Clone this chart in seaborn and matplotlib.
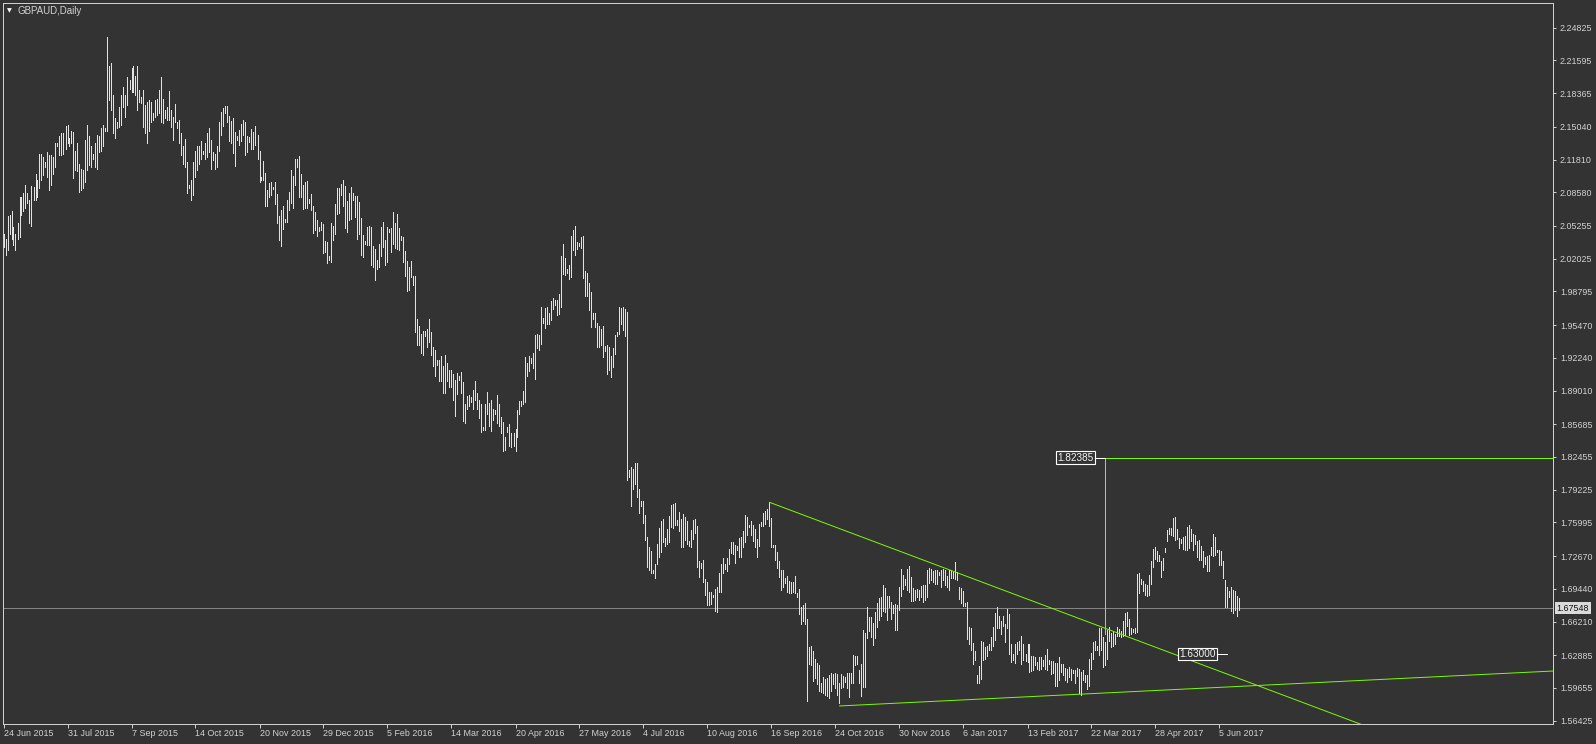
import matplotlib
matplotlib.use("Agg")
import matplotlib.pyplot as plt
import matplotlib.transforms as mtransforms
import numpy as np
import pandas as pd
import seaborn as sns

# ---------------- data ----------------
symbol_title = "GBPAUD,Daily"

bar_high = [
    2.045, 2.040, 2.062, 2.063, 2.067, 2.052, 2.045, 2.055, 2.081, 2.081,
    2.085, 2.093, 2.085, 2.078, 2.092, 2.091, 2.104, 2.098, 2.124, 2.124,
    2.121, 2.116, 2.126, 2.123, 2.123, 2.121, 2.134, 2.134, 2.141, 2.144,
    2.144, 2.151, 2.152, 2.139, 2.146, 2.145, 2.127, 2.134, 2.114, 2.109,
    2.108, 2.137, 2.152, 2.141, 2.131, 2.124, 2.134, 2.142, 2.141, 2.149,
    2.152, 2.149, 2.239, 2.210, 2.213, 2.182, 2.159, 2.155, 2.170, 2.182,
    2.190, 2.182, 2.200, 2.197, 2.208, 2.210, 2.201, 2.210, 2.187, 2.180,
    2.187, 2.172, 2.175, 2.177, 2.175, 2.164, 2.177, 2.178, 2.187, 2.200,
    2.178, 2.167, 2.170, 2.186, 2.167, 2.160, 2.173, 2.155, 2.157, 2.144,
    2.131, 2.138, 2.116, 2.093, 2.098, 2.116, 2.127, 2.131, 2.131, 2.136,
    2.127, 2.134, 2.144, 2.149, 2.137, 2.126, 2.124, 2.131, 2.155, 2.165,
    2.169, 2.171, 2.171, 2.161, 2.156, 2.159, 2.145, 2.141, 2.147, 2.153,
    2.157, 2.155, 2.141, 2.140, 2.148, 2.145, 2.151, 2.142, 2.127, 2.101,
    2.117, 2.105, 2.088, 2.095, 2.096, 2.091, 2.096, 2.084, 2.062, 2.068,
    2.072, 2.059, 2.078, 2.086, 2.108, 2.102, 2.119, 2.119, 2.122, 2.104,
    2.093, 2.096, 2.097, 2.079, 2.084, 2.072, 2.066, 2.058, 2.052, 2.056,
    2.054, 2.038, 2.037, 2.023, 2.055, 2.053, 2.074, 2.090, 2.090, 2.094,
    2.098, 2.092, 2.077, 2.085, 2.091, 2.085, 2.082, 2.082, 2.076, 2.060,
    2.044, 2.038, 2.052, 2.053, 2.052, 2.033, 2.030, 2.019, 2.035, 2.052,
    2.056, 2.039, 2.052, 2.050, 2.051, 2.066, 2.055, 2.064, 2.051, 2.043,
    2.042, 2.028, 2.018, 2.012, 2.018, 2.003, 2.003, 1.961, 1.954, 1.946,
    1.949, 1.949, 1.951, 1.961, 1.948, 1.933, 1.930, 1.920, 1.920, 1.924,
    1.914, 1.925, 1.917, 1.910, 1.910, 1.906, 1.901, 1.907, 1.904, 1.908,
    1.899, 1.877, 1.885, 1.886, 1.884, 1.891, 1.900, 1.888, 1.881, 1.877,
    1.854, 1.877, 1.889, 1.878, 1.881, 1.872, 1.871, 1.886, 1.877, 1.864,
    1.859, 1.844, 1.854, 1.857, 1.848, 1.848, 1.852, 1.871, 1.880, 1.880,
    1.890, 1.923, 1.917, 1.924, 1.922, 1.927, 1.945, 1.946, 1.945, 1.973,
    1.962, 1.972, 1.973, 1.967, 1.978, 1.981, 1.979, 1.979, 1.985, 2.023,
    2.035, 2.021, 2.010, 2.014, 2.043, 2.049, 2.053, 2.037, 2.036, 2.042,
    2.043, 2.008, 2.006, 1.996, 1.987, 1.967, 1.967, 1.957, 1.954, 1.951,
    1.954, 1.934, 1.935, 1.933, 1.924, 1.932, 1.945, 1.948, 1.973, 1.972,
    1.973, 1.971, 1.968, 1.812, 1.815, 1.813, 1.819, 1.819, 1.793, 1.781,
    1.781, 1.767, 1.746, 1.736, 1.732, 1.713, 1.719, 1.739, 1.754, 1.761,
    1.763, 1.745, 1.753, 1.766, 1.777, 1.778, 1.779, 1.762, 1.770, 1.763,
    1.768, 1.765, 1.761, 1.742, 1.752, 1.762, 1.763, 1.756, 1.722, 1.720,
    1.723, 1.704, 1.701, 1.691, 1.691, 1.688, 1.694, 1.696, 1.710, 1.719,
    1.725, 1.719, 1.725, 1.734, 1.741, 1.741, 1.738, 1.737, 1.745, 1.746,
    1.751, 1.767, 1.765, 1.757, 1.761, 1.757, 1.753, 1.744, 1.758, 1.760,
    1.769, 1.771, 1.773, 1.780, 1.764, 1.738, 1.738, 1.731, 1.722, 1.713,
    1.713, 1.705, 1.707, 1.702, 1.701, 1.701, 1.707, 1.690, 1.694, 1.676,
    1.678, 1.680, 1.665, 1.637, 1.638, 1.633, 1.625, 1.621, 1.619, 1.601,
    1.607, 1.605, 1.606, 1.609, 1.611, 1.610, 1.611, 1.610, 1.601, 1.610,
    1.608, 1.607, 1.611, 1.611, 1.611, 1.629, 1.628, 1.628, 1.614, 1.620,
    1.654, 1.651, 1.676, 1.667, 1.667, 1.661, 1.672, 1.680, 1.685, 1.686,
    1.698, 1.695, 1.687, 1.687, 1.681, 1.678, 1.679, 1.678, 1.696, 1.714,
    1.708, 1.704, 1.714, 1.717, 1.706, 1.695, 1.693, 1.694, 1.693, 1.697,
    1.698, 1.698, 1.713, 1.715, 1.714, 1.712, 1.713, 1.713, 1.711, 1.713,
    1.714, 1.713, 1.707, 1.713, 1.713, 1.711, 1.721, 1.711, 1.696, 1.695,
    1.692, 1.680, 1.681, 1.657, 1.656, 1.641, 1.633, 1.609, 1.618, 1.643,
    1.642, 1.637, 1.638, 1.640, 1.647, 1.657, 1.671, 1.676, 1.668, 1.663,
    1.668, 1.660, 1.675, 1.670, 1.640, 1.630, 1.640, 1.642, 1.643, 1.648,
    1.640, 1.630, 1.640, 1.640, 1.628, 1.628, 1.627, 1.622, 1.627, 1.627,
    1.624, 1.629, 1.635, 1.624, 1.623, 1.623, 1.621, 1.621, 1.627, 1.620,
    1.620, 1.616, 1.615, 1.617, 1.615, 1.614, 1.614, 1.616, 1.615, 1.612,
    1.614, 1.609, 1.609, 1.625, 1.631, 1.642, 1.643, 1.638, 1.656, 1.656,
    1.647, 1.642, 1.654, 1.657, 1.651, 1.653, 1.650, 1.657, 1.655, 1.653,
    1.663, 1.671, 1.672, 1.665, 1.656, 1.655, 1.656, 1.709, 1.710, 1.704,
    1.702, 1.699, 1.698, 1.708, 1.722, 1.734, 1.736, 1.732, 1.728, 1.722,
    1.725, 1.735, 1.752, 1.754, 1.754, 1.764, 1.765, 1.753, 1.745, 1.744,
    1.746, 1.747, 1.755, 1.757, 1.753, 1.749, 1.748, 1.742, 1.743, 1.737,
    1.732, 1.726, 1.727, 1.728, 1.736, 1.749, 1.746, 1.733, 1.733, 1.732,
    1.722, 1.703, 1.696, 1.692, 1.696, 1.693, 1.692, 1.687, 1.685,
]

bar_low = [
    2.032, 2.024, 2.029, 2.045, 2.040, 2.034, 2.029, 2.040, 2.042, 2.063,
    2.067, 2.070, 2.075, 2.055, 2.053, 2.078, 2.078, 2.081, 2.090, 2.098,
    2.103, 2.111, 2.101, 2.088, 2.093, 2.104, 2.111, 2.131, 2.123, 2.123,
    2.124, 2.129, 2.134, 2.131, 2.134, 2.100, 2.108, 2.107, 2.086, 2.088,
    2.090, 2.096, 2.108, 2.113, 2.111, 2.119, 2.111, 2.109, 2.126, 2.127,
    2.131, 2.146, 2.146, 2.177, 2.167, 2.144, 2.139, 2.149, 2.150, 2.152,
    2.170, 2.160, 2.172, 2.188, 2.185, 2.185, 2.182, 2.167, 2.175, 2.174,
    2.150, 2.144, 2.134, 2.146, 2.155, 2.157, 2.160, 2.162, 2.164, 2.155,
    2.154, 2.159, 2.157, 2.157, 2.150, 2.137, 2.155, 2.149, 2.134, 2.123,
    2.114, 2.111, 2.085, 2.090, 2.078, 2.083, 2.101, 2.108, 2.114, 2.119,
    2.124, 2.119, 2.121, 2.126, 2.109, 2.118, 2.109, 2.111, 2.127, 2.142,
    2.151, 2.164, 2.155, 2.136, 2.134, 2.125, 2.112, 2.137, 2.132, 2.136,
    2.142, 2.123, 2.126, 2.135, 2.129, 2.129, 2.132, 2.119, 2.096, 2.098,
    2.098, 2.072, 2.072, 2.081, 2.083, 2.089, 2.074, 2.055, 2.039, 2.033,
    2.050, 2.056, 2.056, 2.068, 2.075, 2.070, 2.093, 2.111, 2.081, 2.081,
    2.069, 2.070, 2.070, 2.075, 2.068, 2.046, 2.049, 2.043, 2.048, 2.049,
    2.026, 2.027, 2.016, 2.019, 2.017, 2.039, 2.045, 2.064, 2.065, 2.083,
    2.072, 2.051, 2.047, 2.058, 2.059, 2.078, 2.061, 2.040, 2.045, 2.024,
    2.022, 2.035, 2.034, 2.034, 2.014, 2.012, 1.999, 2.010, 2.012, 2.023,
    2.032, 2.014, 2.017, 2.047, 2.027, 2.035, 2.031, 2.030, 2.029, 2.039,
    2.017, 2.003, 1.988, 1.989, 2.002, 1.994, 1.948, 1.935, 1.935, 1.927,
    1.925, 1.944, 1.933, 1.938, 1.925, 1.914, 1.904, 1.915, 1.900, 1.900,
    1.888, 1.888, 1.900, 1.894, 1.894, 1.881, 1.865, 1.887, 1.901, 1.888,
    1.860, 1.858, 1.872, 1.875, 1.879, 1.872, 1.881, 1.872, 1.863, 1.849,
    1.851, 1.851, 1.867, 1.855, 1.850, 1.861, 1.867, 1.858, 1.855, 1.848,
    1.830, 1.831, 1.849, 1.835, 1.834, 1.835, 1.830, 1.844, 1.867, 1.875,
    1.877, 1.879, 1.904, 1.909, 1.917, 1.912, 1.902, 1.932, 1.930, 1.936,
    1.957, 1.952, 1.956, 1.956, 1.960, 1.971, 1.975, 1.965, 1.966, 1.973,
    2.005, 2.004, 2.006, 2.000, 2.002, 2.029, 2.024, 2.030, 2.033, 2.031,
    2.001, 1.983, 1.983, 1.970, 1.953, 1.961, 1.953, 1.933, 1.933, 1.935,
    1.923, 1.929, 1.906, 1.910, 1.903, 1.913, 1.926, 1.944, 1.946, 1.956,
    1.950, 1.944, 1.802, 1.805, 1.776, 1.793, 1.798, 1.785, 1.769, 1.776,
    1.759, 1.743, 1.716, 1.713, 1.710, 1.710, 1.705, 1.719, 1.726, 1.731,
    1.741, 1.737, 1.739, 1.741, 1.755, 1.754, 1.757, 1.757, 1.751, 1.736,
    1.736, 1.743, 1.739, 1.737, 1.736, 1.744, 1.750, 1.716, 1.706, 1.715,
    1.701, 1.688, 1.678, 1.678, 1.679, 1.686, 1.673, 1.672, 1.691, 1.691,
    1.710, 1.714, 1.712, 1.719, 1.730, 1.729, 1.720, 1.733, 1.726, 1.726,
    1.736, 1.741, 1.748, 1.755, 1.748, 1.742, 1.736, 1.726, 1.737, 1.756,
    1.756, 1.758, 1.763, 1.756, 1.736, 1.736, 1.723, 1.715, 1.706, 1.693,
    1.696, 1.700, 1.691, 1.690, 1.690, 1.691, 1.690, 1.686, 1.670, 1.660,
    1.663, 1.660, 1.584, 1.620, 1.619, 1.603, 1.606, 1.600, 1.594, 1.593,
    1.592, 1.590, 1.589, 1.587, 1.594, 1.600, 1.597, 1.590, 1.582, 1.597,
    1.598, 1.602, 1.597, 1.588, 1.601, 1.601, 1.619, 1.620, 1.601, 1.589,
    1.598, 1.598, 1.646, 1.653, 1.647, 1.639, 1.646, 1.657, 1.664, 1.668,
    1.673, 1.672, 1.664, 1.676, 1.665, 1.671, 1.654, 1.654, 1.674, 1.687,
    1.694, 1.698, 1.693, 1.691, 1.682, 1.682, 1.683, 1.686, 1.683, 1.686,
    1.681, 1.683, 1.686, 1.700, 1.703, 1.701, 1.699, 1.699, 1.708, 1.696,
    1.703, 1.698, 1.696, 1.693, 1.705, 1.705, 1.704, 1.703, 1.684, 1.680,
    1.677, 1.677, 1.645, 1.640, 1.634, 1.620, 1.624, 1.601, 1.601, 1.605,
    1.624, 1.625, 1.628, 1.634, 1.634, 1.638, 1.644, 1.656, 1.656, 1.650,
    1.658, 1.642, 1.656, 1.630, 1.622, 1.624, 1.621, 1.630, 1.634, 1.620,
    1.624, 1.623, 1.622, 1.612, 1.613, 1.614, 1.619, 1.615, 1.614, 1.615,
    1.618, 1.615, 1.614, 1.620, 1.610, 1.611, 1.599, 1.599, 1.604, 1.612,
    1.609, 1.604, 1.602, 1.607, 1.604, 1.611, 1.601, 1.608, 1.592, 1.590,
    1.604, 1.602, 1.596, 1.599, 1.615, 1.625, 1.634, 1.634, 1.629, 1.634,
    1.617, 1.619, 1.625, 1.643, 1.637, 1.638, 1.640, 1.648, 1.648, 1.647,
    1.648, 1.649, 1.658, 1.649, 1.650, 1.652, 1.651, 1.652, 1.690, 1.699,
    1.692, 1.688, 1.687, 1.688, 1.699, 1.716, 1.724, 1.722, 1.722, 1.706,
    1.713, 1.731, 1.742, 1.749, 1.748, 1.747, 1.743, 1.744, 1.735, 1.740,
    1.734, 1.733, 1.733, 1.735, 1.742, 1.733, 1.739, 1.726, 1.723, 1.723,
    1.716, 1.719, 1.712, 1.712, 1.728, 1.727, 1.728, 1.731, 1.718, 1.718,
    1.705, 1.676, 1.676, 1.686, 1.673, 1.671, 1.674, 1.668, 1.674,
]

date_tick_bars = [0, 32, 64, 96, 128, 160, 192, 224, 256, 288,
                  320, 352, 384, 416, 448, 480, 512, 544, 576, 608]
date_labels = ["24 Jun 2015", "31 Jul 2015", "7 Sep 2015", "14 Oct 2015",
               "20 Nov 2015", "29 Dec 2015", "5 Feb 2016", "14 Mar 2016",
               "20 Apr 2016", "27 May 2016", "4 Jul 2016", "10 Aug 2016",
               "16 Sep 2016", "24 Oct 2016", "30 Nov 2016", "6 Jan 2017",
               "13 Feb 2017", "22 Mar 2017", "28 Apr 2017", "5 Jun 2017"]

price_ticks = [2.24825, 2.21595, 2.18365, 2.15040, 2.11810, 2.08580, 2.05255,
               2.02025, 1.98795, 1.95470, 1.92240, 1.89010, 1.85685, 1.82455,
               1.79225, 1.75995, 1.72670, 1.69440, 1.66210, 1.62885, 1.59655,
               1.56425]

current_price = 1.67548

trend_down_bars = [383, 586]
trend_down_prices = [1.7798, 1.6294]
trend_up_bars = [418, 539]
trend_up_prices = [1.5788, 1.5905]

target_bar = 551
target_base_price = 1.6495
target_price = 1.82385

mark_bar = 612
mark_price = 1.63000

assert len(bar_high) == len(bar_low) == 619, (len(bar_high), len(bar_low))

# ---------------- style ----------------
BG = "#333333"
BAR = "#e2e2e2"
FRAME = "#cfcfcf"
TXT = "#d2d2d2"
GREEN = "#7CFC00"

sns.set_theme(style="dark", rc={
    "axes.facecolor": BG, "figure.facecolor": BG,
    "axes.edgecolor": FRAME, "axes.grid": False,
    "text.color": TXT, "xtick.color": TXT, "ytick.color": TXT,
})
plt.rcParams["font.family"] = ["Liberation Sans", "DejaVu Sans"]

W, H = 1596, 744
fig = plt.figure(figsize=(W / 100, H / 100), dpi=100, facecolor=BG)
ax = fig.add_axes([2.5 / W, 20.5 / H, 1551 / W, 721 / H])
ax.set_facecolor(BG)

XMAX = 775
YMIN, YMAX = 1.5615, 2.2731

# ---------------- price bars (high-low lines) ----------------
n = len(bar_high)
df = pd.DataFrame({
    "bar": np.repeat(np.arange(n), 2),
    "price": np.column_stack([bar_low, bar_high]).ravel(),
})
sns.lineplot(data=df, x="bar", y="price", units="bar", estimator=None,
             sort=False, color=BAR, linewidth=0.72, antialiased=False,
             ax=ax, legend=False, zorder=2)

# current price line
ax.axhline(current_price, color="#858585", linewidth=0.72,
           antialiased=False, zorder=1)

# down trendline (ray to the right)
s_dn = (trend_down_prices[1] - trend_down_prices[0]) / (trend_down_bars[1] - trend_down_bars[0])
x_end = 720
ax.plot([trend_down_bars[0], x_end],
        [trend_down_prices[0], trend_down_prices[0] + s_dn * (x_end - trend_down_bars[0])],
        color=GREEN, linewidth=0.7, antialiased=True, zorder=3)

# up trendline (ray to the right edge)
s_up = (trend_up_prices[1] - trend_up_prices[0]) / (trend_up_bars[1] - trend_up_bars[0])
ax.plot([trend_up_bars[0], XMAX],
        [trend_up_prices[0], trend_up_prices[0] + s_up * (XMAX - trend_up_bars[0])],
        color=GREEN, linewidth=0.7, antialiased=True, zorder=3)

# projection: vertical + horizontal target line
ax.plot([target_bar, target_bar], [target_base_price, target_price],
        color=GREEN, linewidth=0.72, antialiased=False, zorder=3)
ax.plot([target_bar, XMAX], [target_price, target_price],
        color=GREEN, linewidth=0.72, antialiased=False, zorder=3)


def price_label(anchor_bar, price):
    ax.plot([anchor_bar - 5, anchor_bar], [price, price], color="white",
            linewidth=0.72, antialiased=False, zorder=4)
    ax.annotate(f"{price:.5f}", xy=(anchor_bar - 5, price), xytext=(-2, 0),
                textcoords="offset pixels", ha="right", va="center",
                fontsize=7.2, color="#f4f4f4", zorder=5,
                bbox=dict(boxstyle="square,pad=0.12", fc=BG, ec="white", lw=0.8))


price_label(target_bar, target_price)
price_label(mark_bar, mark_price)

# ---------------- axes ----------------
ax.set_xlim(-0.5, XMAX)
ax.set_ylim(YMIN, YMAX)
ax.set_xlabel("")
ax.set_ylabel("")
ax.grid(False)

ax.yaxis.tick_right()
ax.set_yticks(price_ticks)
ax.set_yticklabels([f"{v:.5f}" for v in price_ticks])
ax.set_xticks(date_tick_bars)
ax.set_xticklabels(date_labels)
for lbl in ax.get_xticklabels():
    lbl.set_horizontalalignment("left")

ax.tick_params(axis="both", colors=FRAME, labelcolor=TXT, labelsize=6.4,
               width=0.72, direction="out")
ax.tick_params(axis="y", length=2.4, pad=2.2, right=True, left=False)
ax.tick_params(axis="x", length=3.0, pad=1.2, bottom=True, top=False)

for sp in ax.spines.values():
    sp.set_visible(True)
    sp.set_color(FRAME)
    sp.set_linewidth(0.72)

# current price box on the price scale
trans = mtransforms.blended_transform_factory(ax.transAxes, ax.transData)
ax.text(1 + 3.0 / 1551, current_price, f"{current_price:.5f}", transform=trans,
        ha="left", va="center", fontsize=6.4, color="#111111", zorder=10,
        clip_on=False,
        bbox=dict(boxstyle="square,pad=0.18", fc="#dadada", ec="none"))

# title with dropdown triangle
fig.text(9 / W, 1 - 10.5 / H, "\u25BC", fontsize=4.5, color="white",
         ha="center", va="center", family="DejaVu Sans")
fig.text(18 / W, 1 - 10.8 / H, symbol_title, fontsize=7, color=TXT,
         ha="left", va="center")

fig.savefig("out.png", dpi=100, facecolor=BG)
